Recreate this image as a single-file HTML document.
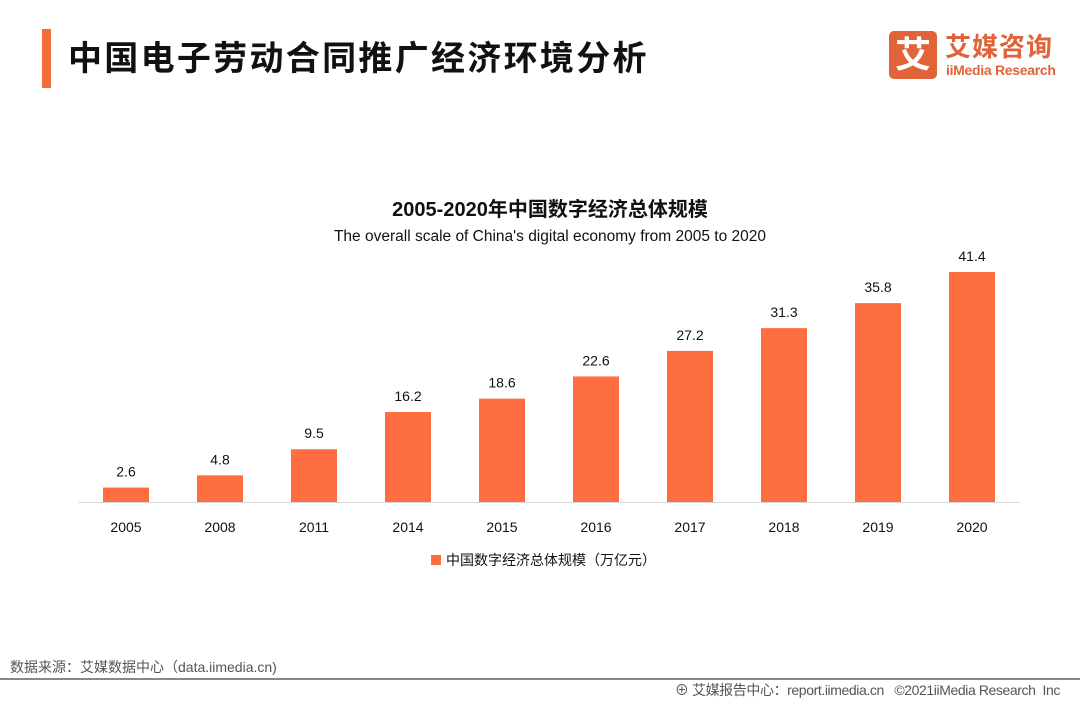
<!DOCTYPE html>
<html><head><meta charset="utf-8"><style>
body{margin:0;width:1080px;height:702px;background:#fff;overflow:hidden;position:relative;font-family:"Liberation Sans","Noto Sans CJK SC",sans-serif;}
.abs{position:absolute;white-space:nowrap;}
</style></head><body>
<div class="abs" style="left:42px;top:29px;width:9px;height:59px;background:#f26b3a"></div>
<div class="abs" style="left:68px;top:31px;font-size:34px;font-weight:bold;color:#111;letter-spacing:2.3px">中国电子劳动合同推广经济环境分析</div>
<div class="abs" style="left:889px;top:31px;width:170px;height:50px">
 <div style="position:absolute;left:0;top:0;width:48px;height:48px;background:#e0633a;border-radius:5px;color:#fff;font-size:36px;font-weight:bold;text-align:center;line-height:48px">艾</div>
 <div style="position:absolute;left:56px;top:-4px;font-size:26px;font-weight:bold;color:#e0633a;letter-spacing:1px">艾媒咨询</div>
 <div style="position:absolute;left:57px;top:31px;font-size:14px;color:#e0633a;font-weight:bold;letter-spacing:-0.3px">iiMedia Research</div>
</div>
<div class="abs" style="left:0;width:1100px;top:193px;text-align:center;font-size:20px;font-weight:bold;color:#111">2005-2020年中国数字经济总体规模</div>
<div class="abs" style="left:0;width:1100px;top:228px;text-align:center;font-size:15.5px;color:#111">The overall scale of China's digital economy from 2005 to 2020</div>
<svg class="abs" style="left:0;top:0" width="1080" height="702" id="chart"></svg>
<div class="abs" style="left:431px;top:550px;font-size:14px;color:#111"><span style="display:inline-block;width:10px;height:10px;background:#ff6e40;margin-right:5px"></span>中国数字经济总体规模（万亿元）</div>
<div class="abs" style="left:10px;top:657px;font-size:14px;color:#555">数据来源：艾媒数据中心（data.iimedia.cn)</div>
<div class="abs" style="left:0;top:678px;width:1080px;height:2px;background:#888"></div>
<div class="abs" style="right:20px;top:680px;font-size:14px;color:#555;letter-spacing:-0.4px">⊕ 艾媒报告中心：report.iimedia.cn&nbsp;&nbsp; ©2021iiMedia Research&nbsp; Inc</div>
<script>
const categories=['2005','2008','2011','2014','2015','2016','2017','2018','2019','2020'];
const values=[2.6,4.8,9.5,16.2,18.6,22.6,27.2,31.3,35.8,41.4];
const svg=document.getElementById('chart');
const NS='http://www.w3.org/2000/svg';
const baseY=502, scale=230/41.4, x0=126, step=94, bw=46;
const xPos=i=>x0+i*step;
const yPos=v=>baseY-v*scale;
const axis=document.createElementNS(NS,'line');
axis.setAttribute('x1',78);axis.setAttribute('x2',1020);axis.setAttribute('y1',baseY+0.5);axis.setAttribute('y2',baseY+0.5);
axis.setAttribute('stroke','#d9d9d9');


svg.appendChild(axis);
categories.forEach((c,i)=>{
 const v=values[i];
 const r=document.createElementNS(NS,'rect');
 r.setAttribute('x',xPos(i)-bw/2);r.setAttribute('y',yPos(v));r.setAttribute('width',bw);r.setAttribute('height',baseY-yPos(v));r.setAttribute('fill','#ff6e40');
 
 
 svg.appendChild(r);
 const t=document.createElementNS(NS,'text');
 t.setAttribute('x',xPos(i));t.setAttribute('y',yPos(v)-11);t.setAttribute('text-anchor','middle');t.setAttribute('font-size','14');t.setAttribute('fill','#111');
 t.textContent=v;
 
 
 svg.appendChild(t);
 const l=document.createElementNS(NS,'text');
 l.setAttribute('x',xPos(i));l.setAttribute('y',532);l.setAttribute('text-anchor','middle');l.setAttribute('font-size','14');l.setAttribute('fill','#111');
 l.textContent=c;
 
 
 svg.appendChild(l);
});
</script>
</body></html>
